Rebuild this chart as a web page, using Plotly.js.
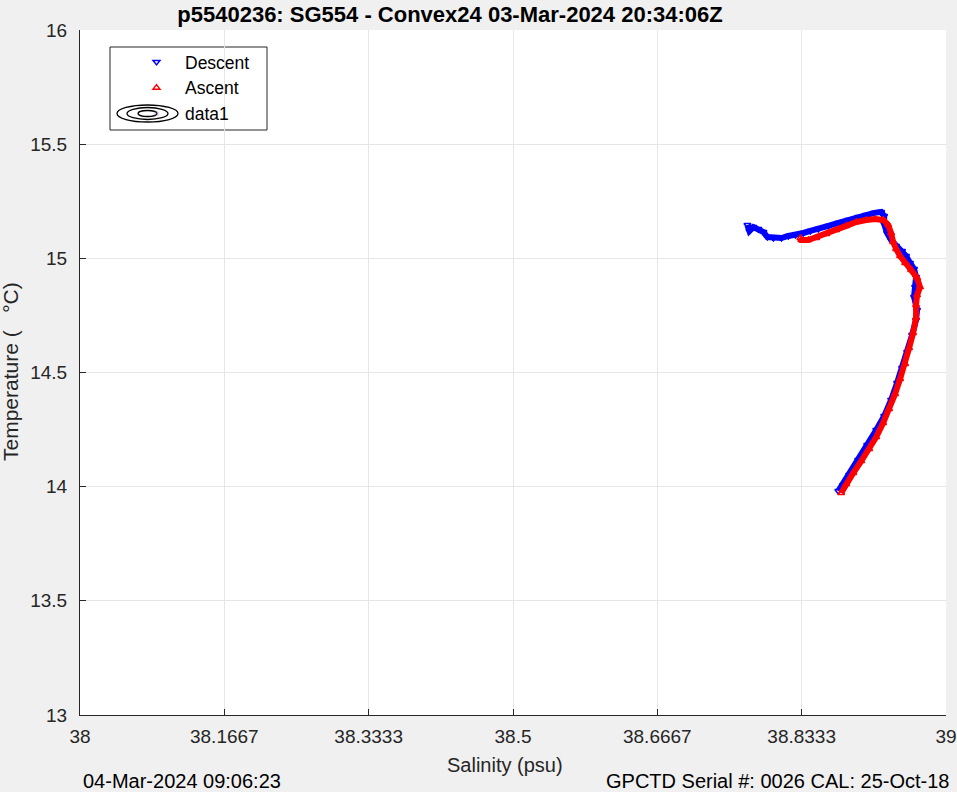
<!DOCTYPE html>
<html>
<head>
<meta charset="utf-8">
<script src="https://cdn.plot.ly/plotly-3.0.1.min.js"></script>
<style>html,body{margin:0;padding:0;background:#f0f0f0;}#chart{width:957px;height:792px;}</style>
</head>
<body>
<div id="chart"></div>
<script>
// Descent (blue) salinity / temperature
var descentSal = [38.7707,38.7730,38.7776,38.7834,38.7892,38.7938,38.8007,38.8099,38.8180,38.8260,38.8353,38.8433,38.8525,38.8641,38.8756,38.8871,38.8986,38.9078,38.9171,38.9251,38.9286,38.9286,38.9320,38.9366,38.9424,38.9493,38.9539,38.9585,38.9631,38.9654,38.9643,38.9631,38.9666,38.9654,38.9608,38.9551,38.9493,38.9435,38.9366,38.9286,38.9194,38.9090,38.8986,38.8882,38.8813,38.8756];
var descentTemp = [15.146,15.120,15.137,15.128,15.115,15.093,15.089,15.089,15.098,15.102,15.111,15.120,15.128,15.142,15.155,15.168,15.181,15.190,15.199,15.203,15.185,15.150,15.111,15.080,15.054,15.032,15.010,14.980,14.953,14.918,14.874,14.831,14.774,14.730,14.664,14.590,14.520,14.454,14.380,14.309,14.248,14.182,14.117,14.051,14.007,13.981];
// Ascent (red)
var ascentSal = [38.8790,38.8848,38.8929,38.9021,38.9113,38.9194,38.9274,38.9343,38.9412,38.9470,38.9528,38.9574,38.9620,38.9654,38.9654,38.9666,38.9700,38.9666,38.9597,38.9528,38.9470,38.9424,38.9389,38.9366,38.9332,38.9274,38.9182,38.9078,38.8963,38.8848,38.8733,38.8618,38.8502,38.8410,38.8329,38.8318];
var ascentTemp = [13.972,14.012,14.060,14.112,14.165,14.217,14.279,14.340,14.406,14.472,14.537,14.607,14.673,14.739,14.796,14.839,14.874,14.914,14.949,14.980,15.010,15.041,15.072,15.111,15.146,15.168,15.172,15.168,15.159,15.142,15.124,15.107,15.089,15.080,15.080,15.089];

var xTickVals = [38, 38+1/6, 38+2/6, 38.5, 38+4/6, 38+5/6, 39];
var xTickText = ['38','38.1667','38.3333','38.5','38.6667','38.8333','39'];
var yTickVals = [13, 13.5, 14, 14.5, 15, 15.5, 16];
var yTickText = ['13','13.5','14','14.5','15','15.5','16'];

var titleText = 'p5540236: SG554 - Convex24 03-Mar-2024 20:34:06Z';
var xTitle = 'Salinity (psu)';
var yTitle = 'Temperature (   °C)';
var leftFoot = '04-Mar-2024 09:06:23';
var rightFoot = 'GPCTD Serial #: 0026 CAL: 25-Oct-18';

var FONT = 'Liberation Sans, Arial, sans-serif';
var TXT = '#262626';

var traces = [
  {x: descentSal, y: descentTemp, mode: 'lines', line: {color: '#0000ff', width: 6}, showlegend: false, hoverinfo: 'skip'},
  {x: descentSal, y: descentTemp, mode: 'markers', name: 'Descent',
   marker: {symbol: 'triangle-down-open', color: '#0000ff', size: 6, line: {width: 1.5, color: '#0000ff'}}},
  {x: ascentSal, y: ascentTemp, mode: 'lines', line: {color: '#ff0000', width: 6}, showlegend: false, hoverinfo: 'skip'},
  {x: ascentSal, y: ascentTemp, mode: 'markers', name: 'Ascent',
   marker: {symbol: 'triangle-up-open', color: '#ff0000', size: 6, line: {width: 1.5, color: '#ff0000'}}},
  {x: [null], y: [null], mode: 'markers', name: 'data1', marker: {opacity: 0}}
];

// plot area is 80..946 x 30..715 px
var L = 80, R = 946, T = 30, B = 715;
function px(x){return (x-L)/(R-L);}
function py(y){return (B-y)/(B-T);}

var layout = {
  width: 957, height: 792,
  paper_bgcolor: '#f0f0f0', plot_bgcolor: '#ffffff',
  margin: {l: L, r: 957-R, t: T, b: 792-B},
  font: {family: FONT, color: TXT, size: 18},
  title: {text: titleText, font: {family: FONT, size: 22, color: '#000000', weight: 'bold'},
          x: 450/957, xanchor: 'center', xref: 'container', y: 1 - 14/792, yanchor: 'middle', yref: 'container'},
  xaxis: {range: [38, 39], tickvals: xTickVals, ticktext: xTickText, ticks: 'inside', ticklen: 6, tickcolor: TXT,
          showline: true, linecolor: TXT, linewidth: 1, mirror: false, showgrid: true, gridcolor: '#e6e6e6',
          zeroline: false, tickfont: {size: 19, color: TXT}, ticklabelstandoff: 4, ticklabeloverflow: 'allow'},
  yaxis: {range: [13, 16], tickvals: yTickVals, ticktext: yTickText, ticks: 'inside', ticklen: 6, tickcolor: TXT,
          showline: true, linecolor: TXT, linewidth: 1, mirror: false, showgrid: true, gridcolor: '#e6e6e6',
          zeroline: false, tickfont: {size: 19, color: TXT}, ticklabelstandoff: 8, ticklabeloverflow: 'allow'},
  showlegend: true,
  legend: {x: px(128), y: py(44), xanchor: 'left', yanchor: 'top', bgcolor: 'rgba(0,0,0,0)', borderwidth: 0,
           font: {size: 17.5, color: '#000000'}, itemwidth: 47, tracegroupgap: 0},
  shapes: [
    {type: 'rect', xref: 'paper', yref: 'paper', x0: px(110), x1: px(267), y0: py(130), y1: py(47),
     line: {color: TXT, width: 1}, fillcolor: '#ffffff', layer: 'below'},
    {type: 'circle', xref: 'paper', yref: 'paper', x0: px(117), x1: px(178), y0: py(122), y1: py(105), line: {color: '#000', width: 1.3}},
    {type: 'circle', xref: 'paper', yref: 'paper', x0: px(127), x1: px(168), y0: py(119.5), y1: py(107.5), line: {color: '#000', width: 1.3}},
    {type: 'circle', xref: 'paper', yref: 'paper', x0: px(138), x1: px(157), y0: py(116.5), y1: py(110.5), line: {color: '#000', width: 1.3}}
  ],
  annotations: [
    {text: xTitle, xref: 'paper', yref: 'paper', x: px(505), y: py(765), xanchor: 'center', yanchor: 'middle',
     showarrow: false, font: {size: 20, color: TXT}},
    {text: yTitle, xref: 'paper', yref: 'paper', x: px(10), y: py(372), xanchor: 'center', yanchor: 'middle',
     textangle: -90, showarrow: false, font: {size: 21, color: TXT}},
    {text: leftFoot, xref: 'paper', yref: 'paper', x: px(81), y: py(781), xanchor: 'left', yanchor: 'middle',
     showarrow: false, font: {size: 20, color: '#000000'}},
    {text: rightFoot, xref: 'paper', yref: 'paper', x: px(951), y: py(781), xanchor: 'right', yanchor: 'middle',
     showarrow: false, font: {size: 20, color: '#000000'}}
  ]
};

Plotly.newPlot('chart', traces, layout, {displayModeBar: false, staticPlot: true});
</script>
</body>
</html>
